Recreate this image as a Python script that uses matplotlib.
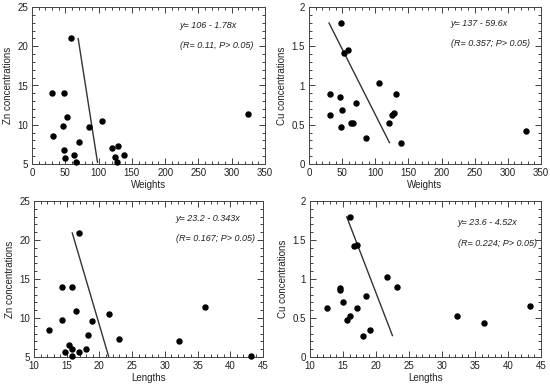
import matplotlib
matplotlib.use("Agg")
import matplotlib.pyplot as plt
from matplotlib.ticker import MultipleLocator, FormatStrFormatter

plt.rcParams['font.family'] = ['Liberation Sans', 'DejaVu Sans']

# Panel A: Weights vs Zn
w_zn_x = [58.4, 30.5, 47.9, 51.9, 46.4, 31.5, 48.4, 49.9, 62.4, 66.4, 70.9, 84.9,
          105.3, 120.3, 124.2, 129.8, 127.8, 137.8, 324.0]
w_zn_y = [21.0, 14.06, 14.06, 10.96, 9.8, 8.6, 6.8, 5.8, 6.15, 5.2, 7.8, 9.7,
          10.5, 7.1, 5.9, 7.3, 5.25, 6.15, 11.4]
w_zn_fit_x = [69.4, 98.4]
w_zn_fit_y = [20.96, 5.21]

# Panel B: Weights vs Cu
w_cu_x = [48.3, 52.4, 58.9, 31.2, 46.8, 32.2, 50.4, 47.8, 71.0, 62.9, 66.5, 85.6,
          106.3, 120.9, 124.9, 128.9, 130.9, 139.0, 327.3]
w_cu_y = [1.796, 1.42, 1.447, 0.889, 0.855, 0.63, 0.694, 0.468, 0.779, 0.519, 0.519,
          0.336, 1.026, 0.519, 0.626, 0.655, 0.894, 0.272, 0.426]
w_cu_fit_x = [30.2, 121.4]
w_cu_fit_y = [1.796, 0.272]

# Panel C: Lengths vs Zn
l_zn_x = [16.87, 14.3, 15.85, 16.4, 14.3, 12.3, 18.9, 18.3, 21.4, 23.0, 32.1, 36.1,
          43.2, 15.35, 14.8, 15.85, 15.8, 16.87, 17.9]
l_zn_y = [20.9, 14.0, 14.0, 10.9, 9.8, 8.5, 9.6, 7.8, 10.5, 7.3, 7.1, 11.45,
          5.1, 6.6, 5.6, 6.0, 5.1, 5.7, 6.0]
l_zn_fit_x = [15.85, 21.4]
l_zn_fit_y = [20.9, 5.09]

# Panel D: Lengths vs Cu
l_cu_x = [16.07, 16.6, 17.1, 14.6, 14.6, 12.5, 15.06, 17.08, 15.6, 16.1, 18.5, 21.6,
          23.15, 18.1, 19.1, 32.2, 36.35, 43.4]
l_cu_y = [1.797, 1.42, 1.44, 0.89, 0.855, 0.63, 0.70, 0.63, 0.47, 0.52, 0.78, 1.03,
          0.90, 0.275, 0.34, 0.52, 0.43, 0.657]
l_cu_fit_x = [15.56, 22.49]
l_cu_fit_y = [1.797, 0.275]

eqs = ["y= 106 - 1.78x", "y= 137 - 59.6x", "y= 23.2 - 0.343x", "y= 23.6 - 4.52x"]
stats = ["(R= 0.11, P> 0.05)", "(R= 0.357; P> 0.05)", "(R= 0.167; P> 0.05)", "(R= 0.224; P> 0.05)"]

W, H = 550, 386
fig = plt.figure(figsize=(5.5, 3.86), dpi=100)

def ax_at(l, t, r, b):
    return fig.add_axes([l / W, 1 - b / H, (r - l) / W, (b - t) / H])

panels = [
    dict(box=(32, 7, 265, 164), x=w_zn_x, y=w_zn_y, fx=w_zn_fit_x, fy=w_zn_fit_y,
         xlim=(0, 350), ylim=(5, 25), xmaj=50, xmin=10, ymaj=5, ymin=1,
         xlabel="Weights", ylabel="Zn concentrations", tpos=(0.635, 0.885, 0.755)),
    dict(box=(309, 7, 541, 164), x=w_cu_x, y=w_cu_y, fx=w_cu_fit_x, fy=w_cu_fit_y,
         xlim=(0, 350), ylim=(0, 2), xmaj=50, xmin=10, ymaj=0.5, ymin=0.1,
         xlabel="Weights", ylabel="Cu concentrations", tpos=(0.612, 0.895, 0.77)),
    dict(box=(34, 201, 263, 357), x=l_zn_x, y=l_zn_y, fx=l_zn_fit_x, fy=l_zn_fit_y,
         xlim=(10, 45), ylim=(5, 25), xmaj=5, xmin=1, ymaj=5, ymin=1,
         xlabel="Lengths", ylabel="Zn concentrations", tpos=(0.62, 0.89, 0.76)),
    dict(box=(310, 201, 541, 357), x=l_cu_x, y=l_cu_y, fx=l_cu_fit_x, fy=l_cu_fit_y,
         xlim=(10, 45), ylim=(0, 2), xmaj=5, xmin=1, ymaj=0.5, ymin=0.1,
         xlabel="Lengths", ylabel="Cu concentrations", tpos=(0.64, 0.86, 0.725)),
]

for i, p in enumerate(panels):
    ax = ax_at(*p['box'])
    ax.scatter(p['x'], p['y'], s=13, color='black', zorder=3, clip_on=False)
    ax.plot(p['fx'], p['fy'], color='#333333', lw=1.0)
    ax.set_xlim(*p['xlim'])
    ax.set_ylim(*p['ylim'])
    ax.xaxis.set_major_locator(MultipleLocator(p['xmaj']))
    ax.xaxis.set_minor_locator(MultipleLocator(p['xmin']))
    ax.yaxis.set_major_locator(MultipleLocator(p['ymaj']))
    ax.yaxis.set_minor_locator(MultipleLocator(p['ymin']))
    ax.xaxis.set_major_formatter(FormatStrFormatter('%g'))
    ax.yaxis.set_major_formatter(FormatStrFormatter('%g'))
    ax.tick_params(which='both', direction='in', top=True, right=True,
                   labelsize=7, colors='#222222', width=0.6)
    ax.tick_params(axis='x', pad=3)
    ax.tick_params(axis='y', pad=3)
    ax.tick_params(which='major', length=4)
    ax.tick_params(which='minor', length=2.5)
    for s in ax.spines.values():
        s.set_linewidth(0.7)
        s.set_color('#444444')
    ax.set_xlabel(p['xlabel'], fontsize=7, labelpad=1, color='#222222')
    ax.set_ylabel(p['ylabel'], fontsize=7, labelpad=3, color='#222222')
    tx, ty1, ty2 = p['tpos']
    ax.text(tx, ty1, eqs[i], transform=ax.transAxes, fontsize=6.5, style='italic',
            va='center', ha='left', color='#222222')
    ax.text(tx, ty2, stats[i], transform=ax.transAxes, fontsize=6.5, style='italic',
            va='center', ha='left', color='#222222')

fig.savefig("out.png", dpi=100)
